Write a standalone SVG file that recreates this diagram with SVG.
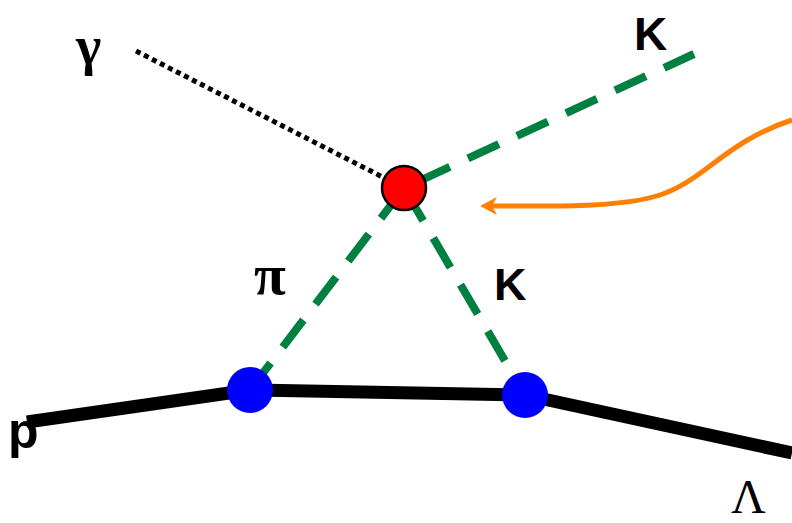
<svg xmlns="http://www.w3.org/2000/svg" width="792" height="523" viewBox="0 0 792 523">
<style>
.sans{font-family:"Liberation Sans",Arial,sans-serif;font-weight:bold;fill:#000}
.serif{font-family:"Liberation Serif","Times New Roman",serif;fill:#000}
.green{stroke:#008040;stroke-width:8;fill:none;stroke-dasharray:34 20}
</style>
<g id="connectors">
<path d="M27,422 L250,390 L525,395 L792,453" stroke="#000" stroke-width="13" fill="none" stroke-linejoin="round"/>
<line x1="136" y1="51" x2="404" y2="188" stroke="#000" stroke-width="5" stroke-dasharray="5 4"/>
<line class="green" x1="404" y1="188" x2="694" y2="54" stroke-dashoffset="37.5"/>
<line class="green" x1="404" y1="188" x2="250" y2="390" stroke-dashoffset="-4"/>
<line class="green" x1="404" y1="188" x2="525" y2="395" stroke-dashoffset="-4"/>
<path d="M792,120 C725,142 705,180 660,195 C620,208 550,206 490,206" stroke="#FF8000" stroke-width="5" fill="none"/>
<path d="M480,206 L497,197 L492,206 L497,215 Z" fill="#FF8000"/>
</g>
<g id="vertex-top"><circle cx="404" cy="188" r="22" fill="#FF0000" stroke="#000" stroke-width="2.5"/></g>
<g id="vertex-left"><circle cx="250" cy="390" r="23" fill="#0000FF"/></g>
<g id="vertex-right"><circle cx="525" cy="395" r="23" fill="#0000FF"/></g>
<g id="labels">
<text class="serif" x="76" y="64" font-size="54" font-weight="bold">γ</text>
<text class="sans" x="634" y="50" font-size="46">K</text>
<text class="serif" x="254" y="294" font-size="58" font-weight="bold">π</text>
<text class="sans" x="494" y="300" font-size="45">K</text>
<text class="sans" x="8" y="448" font-size="50">p</text>
<text class="serif" x="731" y="513" font-size="48">Λ</text>
</g>
</svg>
